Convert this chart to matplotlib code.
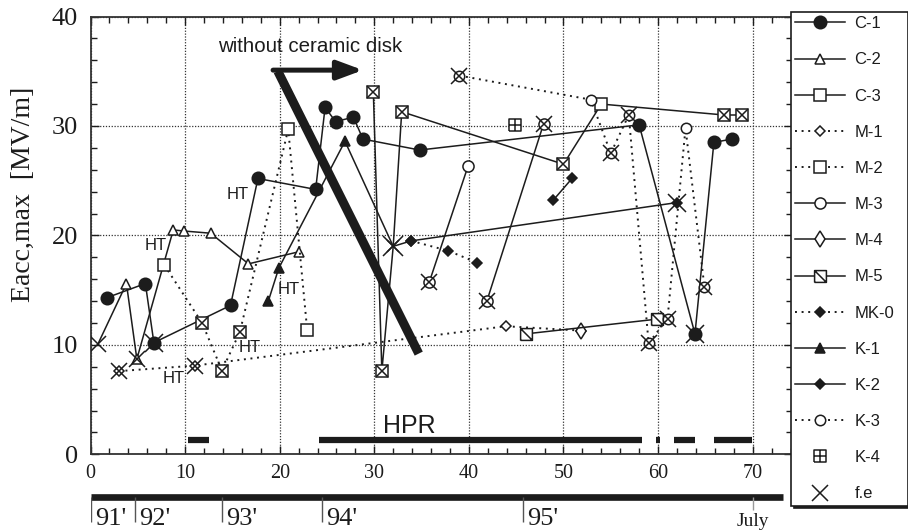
import matplotlib
matplotlib.use("Agg")
import matplotlib.pyplot as plt
import numpy as np
from matplotlib.lines import Line2D
from matplotlib.path import Path
from matplotlib.ticker import MultipleLocator

nan = np.nan

# x = test number, y = Eacc,max [MV/m]
# *_fe = indices limited by field emission, *_bare = points shown only by the f.e cross
c1_x = [1.7, 5.8, 6.7, 14.8, 17.7, 23.8, 24.8, 25.9, 27.8, 28.8, 34.8, 58.0, 63.9, 65.9, 67.8]
c1_y = [14.3, 15.6, 10.2, 13.6, 25.2, 24.2, 31.7, 30.4, 30.8, 28.8, 27.8, 30.1, 11.0, 28.5, 28.8]
c1_fe = [2, 12]

c2_x = [0.8, 3.8, 4.9, 8.75, 9.9, 12.7, 16.7, 22.0]
c2_y = [10.1, 15.6, 8.7, 20.5, 20.4, 20.2, 17.4, 18.5]
c2_fe = [0, 2]
c2_bare = [0]

c3_x = [29.9, 30.8, 32.0, 32.9, 50.0, 54.0, 67.0, 68.9]
c3_y = [33.1, 7.6, 19.0, 31.3, 26.5, 32.0, 31.0, 31.0]
c3_fe = [0, 1, 2, 3, 4, 6, 7]
c3_bare = [2]

m1_x = [3.0, 11.0, 43.9, 51.9]
m1_y = [7.6, 8.1, 11.7, 11.3]
m1_fe = [0, 1]

m2_x = [7.8, 11.8, 13.9, 15.8, 20.9, 22.9]
m2_y = [17.3, 12.0, 7.65, 11.2, 29.7, 11.4]
m2_fe = [1, 2, 3]

m3_x = [35.8, 39.9, nan, 41.9, 47.9]
m3_y = [15.7, 26.3, nan, 14.0, 30.2]
m3_fe = [0, 3, 4]

m4_x = [51.9]
m4_y = [11.3]

m5_x = [46.0, 59.9]
m5_y = [11.0, 12.35]

mk0_x = [33.9, 37.8, 40.9]
mk0_y = [19.5, 18.6, 17.5]

k1_x = [18.8, 19.9, 26.9, 32.0]
k1_y = [14.0, 17.0, 28.6, 19.0]
k1_fe = [3]
k1_bare = [3]

k2_x = [32.0, 33.9, 62.0, nan, 48.9, 50.9]
k2_y = [19.0, 19.5, 23.0, nan, 23.2, 25.2]
k2_fe = [2]
k2_bare = [0]

k3_x = [39.0, 52.9, 55.0, 56.9, 59.0, 61.0, 62.9, 64.9]
k3_y = [34.6, 32.4, 27.5, 31.0, 10.15, 12.4, 29.8, 15.3]
k3_fe = [0, 2, 3, 4, 5, 7]

k4_x = [44.9]
k4_y = [30.1]

# high peak power processing periods
hpr_start = [10.3, 24.2, 59.8, 61.7, 65.9]
hpr_end = [12.5, 58.3, 60.2, 63.9, 69.9]

ht_x = [15.6, 6.9, 21.0, 16.8, 8.8]
ht_y = [23.7, 19.1, 15.1, 9.8, 6.9]

year_x = [0.0, 4.74, 13.87, 24.5, 45.75]
year_labels = ["91'", "92'", "93'", "94'", "95'"]
july_x = 70.06

INK = "#1c1c1c"
SANS = "Liberation Sans"
plt.rcParams["font.family"] = ["Liberation Serif", "DejaVu Serif"]

M, L = Path.MOVETO, Path.LINETO
box_diag = Path([(-1, -1), (1, -1), (1, 1), (-1, 1), (-1, -1), (-1, 1), (1, -1)],
                [M, L, L, L, L, M, L])
box_plus = Path([(-1, -1), (1, -1), (1, 1), (-1, 1), (-1, -1), (0, -1), (0, 1), (-1, 0), (1, 0)],
                [M, L, L, L, L, M, L, M, L])
DOT = (0, (1, 2.4))

series = [
    ("C-1", c1_x, c1_y, c1_fe, [], dict(ls="-", marker="o", ms=9, mfc=INK), 13),
    ("C-2", c2_x, c2_y, c2_fe, c2_bare, dict(ls="-", marker="^", ms=7, mfc="white"), 12),
    ("C-3", c3_x, c3_y, c3_fe, c3_bare, dict(ls="-", marker="s", ms=8.5, mfc="white"), 8.5),
    ("M-1", m1_x, m1_y, m1_fe, [], dict(ls=DOT, marker="D", ms=5, mfc="white"), 11),
    ("M-2", m2_x, m2_y, m2_fe, [], dict(ls=DOT, marker="s", ms=8.5, mfc="white"), 8.5),
    ("M-3", m3_x, m3_y, m3_fe, [], dict(ls="-", marker="o", ms=8, mfc="white"), 12),
    ("M-4", m4_x, m4_y, [], [], dict(ls="-", marker="d", ms=8, mfc="white"), 11),
    ("M-5", m5_x, m5_y, [], [], dict(ls="-", marker=box_diag, ms=8.5, mfc="white"), 8.5),
    ("MK-0", mk0_x, mk0_y, [], [], dict(ls=DOT, marker="D", ms=5.5, mfc=INK), 11),
    ("K-1", k1_x, k1_y, k1_fe, k1_bare, dict(ls="-", marker="^", ms=7, mfc=INK), 14),
    ("K-2", k2_x, k2_y, k2_fe, k2_bare, dict(ls="-", marker="D", ms=5.5, mfc=INK), 13),
    ("K-3", k3_x, k3_y, k3_fe, [], dict(ls=DOT, marker="o", ms=7.5, mfc="white"), 11),
    ("K-4", k4_x, k4_y, [], [], dict(ls="none", marker=box_plus, ms=9, mfc="white"), 9),
]

fig = plt.figure(figsize=(9.08, 5.32), dpi=100)
ax_left, ax_w = 90.5 / 908, (792.4 - 90.5) / 908
ax = fig.add_axes([ax_left, (532 - 454.3) / 532, ax_w, (454.3 - 16.5) / 532])
ax.set_xlim(0, 74.2)
ax.set_ylim(0, 40)

ax.xaxis.set_major_locator(MultipleLocator(10))
ax.xaxis.set_minor_locator(MultipleLocator(2))
ax.yaxis.set_major_locator(MultipleLocator(10))
ax.yaxis.set_minor_locator(MultipleLocator(2))
ax.tick_params(which="both", direction="in", top=True, right=True, color=INK, labelcolor=INK)
ax.tick_params(which="major", length=6, width=1)
ax.tick_params(which="minor", length=4, width=1)
ax.tick_params(axis="x", labelsize=14.5, pad=7)
ax.tick_params(axis="y", labelsize=19, pad=9)
for sp in ax.spines.values():
    sp.set_linewidth(1.3)
    sp.set_color("#333333")
ax.grid(True, which="major", ls=(0, (1, 1.3)), lw=0.9, color="#333333")
ax.set_axisbelow(True)

handles = []
for label, x, y, fe, bare, st, fe_ms in series:
    lw = 1.4 if st["ls"] == DOT else 1.1
    keep = [i for i in range(len(x)) if i not in bare]
    ax.plot(x, y, color=INK, lw=lw, mec=INK, mew=1.1, zorder=3, markevery=keep, **st)
    if fe:
        ax.plot(np.take(x, fe), np.take(y, fe), ls="none", marker="x", ms=fe_ms,
                mew=1.1, color=INK, zorder=4)
    handles.append(Line2D([], [], color=INK, lw=lw, mec=INK, mew=1.1, label=label, **st))
handles.append(Line2D([], [], ls="none", marker="x", ms=12, mew=1.1, color=INK, label="f.e"))

# HPR periods
ax.hlines([1.35] * len(hpr_start), hpr_start, hpr_end, lw=4.5, color=INK, capstyle="butt")
ax.text(30.9, 1.95, "HPR", family=SANS, fontsize=18, color=INK, ha="left", va="baseline")

for hx, hy in zip(ht_x, ht_y):
    ax.text(hx, hy, "HT", family=SANS, fontsize=12, color=INK, ha="center", va="center", zorder=6)

# without ceramic disk marker
ax.text(13.5, 36.75, "without ceramic disk", family=SANS, fontsize=14.8, color=INK,
        ha="left", va="baseline")
ax.plot([19.8, 34.7], [35.0, 9.2], color=INK, lw=6.5, solid_capstyle="butt", zorder=5)
ax.annotate("", xy=(28.8, 35.1), xytext=(19.3, 35.1),
            arrowprops=dict(arrowstyle="-|>,head_length=0.7,head_width=0.26", lw=3.6,
                            color=INK, shrinkA=0, shrinkB=0, mutation_scale=22), zorder=5)

fig.text(23 / 908, 1 - 194 / 532, "Eacc,max  [MV/m]", rotation=90, fontsize=20,
         color=INK, ha="center", va="center")

# year timeline below the axis
tl = fig.add_axes([ax_left, 0, ax_w, 40 / 532])
tl.set_xlim(ax.get_xlim())
tl.set_ylim(0, 40)
tl.axis("off")
tl.plot([0.05, 73.2], [35.3, 35.3], lw=4.8, color=INK, solid_capstyle="butt", clip_on=False)
tl.vlines(year_x, 10, 35, color="#555555", lw=1)
for yx, lab in zip(year_x, year_labels):
    tl.text(yx + 0.45, 7, lab, fontsize=19, color=INK, ha="left", va="baseline")
tl.vlines(july_x, 22, 35, color="#999999", lw=1)
tl.text(july_x, 6, "July", fontsize=14, color=INK, ha="center", va="baseline")

leg = fig.legend(handles=handles, loc="upper left",
                 bbox_to_anchor=(791 / 908, 1 - 12 / 532, 117 / 908, 0), mode="expand",
                 prop={"family": SANS, "size": 12}, fancybox=False, edgecolor=INK,
                 framealpha=1, labelspacing=1.27, handlelength=3.0, handletextpad=0.55,
                 borderpad=0.25, borderaxespad=0, shadow={"color": INK, "alpha": 1})
leg.get_frame().set_linewidth(1.2)
for t in leg.get_texts():
    t.set_color(INK)

fig.savefig("out.png", dpi=100)
